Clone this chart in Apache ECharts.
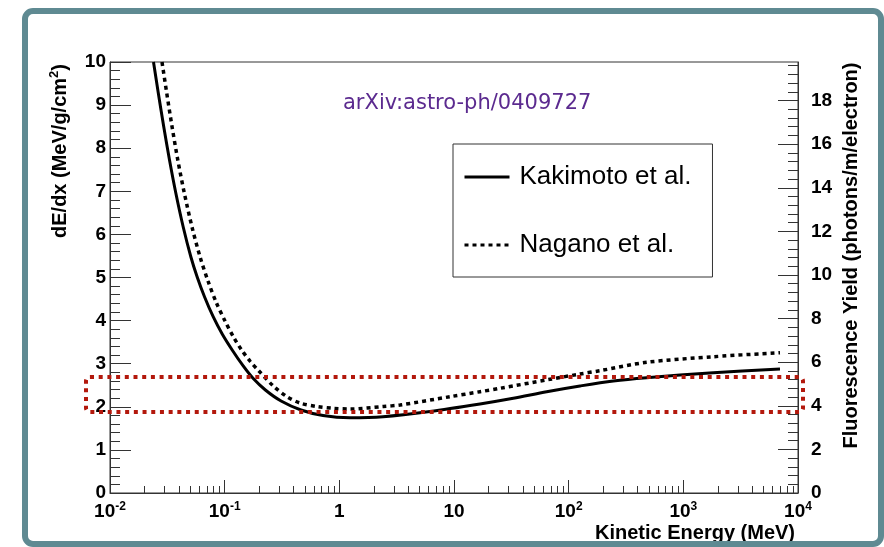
<!DOCTYPE html>
<html>
<head>
<meta charset="utf-8">
<script src="https://cdn.jsdelivr.net/npm/echarts@6/dist/echarts.min.js"></script>
<style>
  html, body { margin: 0; padding: 0; background: #fff; }
  #main { width: 884px; height: 547px; }
</style>
</head>
<body>
<div id="main"></div>
<script>
// dE/dx curves (energy in MeV, dE/dx in MeV/g/cm2)
var kakimotoEnergy = [0.02395, 0.02637, 0.02945, 0.03303, 0.03749, 0.0435, 0.05076, 0.05759, 0.06683, 0.07959,
  0.09517, 0.1163, 0.1451, 0.1759, 0.2265, 0.3105, 0.463, 0.7204, 1.239, 2.404,
  6.17, 16.85, 32.9, 64.3, 125.6, 245, 478, 1824, 6966];
var kakimotoDedx = [10.0, 9.281, 8.492, 7.726, 6.961, 6.172, 5.476, 5.012, 4.548, 4.084,
  3.689, 3.318, 2.947, 2.668, 2.390, 2.135, 1.926, 1.798, 1.747, 1.770,
  1.891, 2.065, 2.197, 2.350, 2.483, 2.599, 2.675, 2.791, 2.877];

var naganoEnergy = [0.02841, 0.03123, 0.0348, 0.03902, 0.04446, 0.05189, 0.06105, 0.07153, 0.08487, 0.1007,
  0.1194, 0.1416, 0.1674, 0.1972, 0.2655, 0.3475, 0.4538, 0.6346, 0.8859, 1.239,
  2.417, 3.381, 9.226, 16.85, 25.18, 68.7, 125.6, 187.5, 478, 1824, 6966];
var naganoDedx = [10.0, 9.281, 8.492, 7.726, 6.961, 6.172, 5.476, 4.919, 4.408, 3.991,
  3.619, 3.306, 3.051, 2.842, 2.483, 2.239, 2.088, 2.007, 1.965, 1.949,
  2.007, 2.042, 2.234, 2.350, 2.429, 2.638, 2.761, 2.838, 3.032, 3.162, 3.255];

var seriesNames = ['Kakimoto et al.', 'Nagano et al.'];

// axis ticks / labels
var xTickLabels = ['10^-2', '10^-1', '1', '10', '10^2', '10^3', '10^4'];
var xDecades = [0.01, 0.1, 1, 10, 100, 1000];
var rightMajorTicks = [0, 2, 4, 6, 8, 10, 12, 14, 16, 18];
var rightMax = 19.77;

var xMinorTicks = [];
xDecades.forEach(function (d) {
  for (var k = 2; k <= 9; k++) xMinorTicks.push(+(k * d).toPrecision(3));
});
var rightMinorTicks = [];
for (var i = 1; i * 0.4 < rightMax; i++) {
  if (i % 5 !== 0) rightMinorTicks.push(+(i * 0.4).toFixed(1));
}

function zip(xs, ys) {
  return xs.map(function (x, i) { return [x, ys[i]]; });
}

var font = 'Liberation Sans, Arial, Helvetica, sans-serif';
var axisColor = '#333';

var myChart = echarts.init(document.getElementById('main'));

myChart.setOption({
  animation: false,
  backgroundColor: '#fff',
  title: {
    text: 'arXiv:astro-ph/0409727',
    left: 343,
    top: 93,
    padding: 0,
    textStyle: { color: '#5b2a8f', fontSize: 21, fontWeight: 'normal', fontFamily: 'DejaVu Sans' }
  },
  legend: {
    orient: 'vertical',
    left: 453,
    top: 144,
    padding: [18, 21, 17, 10],
    itemGap: 38,
    itemWidth: 45,
    itemHeight: 14,
    borderColor: '#333',
    borderWidth: 1,
    backgroundColor: '#fff',
    itemStyle: { opacity: 0 },
    lineStyle: { width: 3 },
    textStyle: { fontFamily: font, fontSize: 26, color: '#000', lineHeight: 30, padding: [0, 0, 0, 5] },
    data: seriesNames
  },
  grid: {
    left: 110,
    right: 86,
    top: 62,
    bottom: 54,
    show: true,
    borderColor: axisColor,
    borderWidth: 1,
    backgroundColor: 'transparent',
    outerBoundsMode: 'none'
  },
  xAxis: [
    {
      type: 'log',
      logBase: 10,
      min: 0.01,
      max: 10000,
      splitNumber: 6,
      position: 'bottom',
      axisLine: { show: true, lineStyle: { color: axisColor, width: 1 } },
      axisTick: { show: true, inside: true, length: 13, lineStyle: { color: axisColor } },
      minorTick: { show: false },
      splitLine: { show: false },
      axisLabel: {
        margin: 8,
        formatter: function (value) {
          var idx = Math.round(Math.log10(value)) + 2;
          var lab = xTickLabels[idx] || '';
          var parts = lab.split('^');
          return parts.length > 1 ? '{b|' + parts[0] + '}{s|' + parts[1] + '}' : '{b|' + lab + '}';
        },
        rich: {
          b: { fontFamily: font, fontWeight: 'bold', fontSize: 19, lineHeight: 22, color: '#000' },
          s: { fontFamily: font, fontWeight: 'bold', fontSize: 12, lineHeight: 12, verticalAlign: 'top', color: '#000' }
        }
      },
      name: 'Kinetic Energy (MeV)',
      nameLocation: 'end',
      nameGap: 0,
      nameMoveOverlap: false,
      nameTextStyle: {
        fontFamily: font, fontWeight: 'bold', fontSize: 20, color: '#000',
        align: 'right', verticalAlign: 'top', padding: [30, 3, 0, 0]
      }
    },
    {
      type: 'log',
      logBase: 10,
      min: 0.01,
      max: 10000,
      position: 'bottom',
      axisLine: { show: false },
      axisTick: { show: true, inside: true, length: 7, customValues: xMinorTicks, lineStyle: { color: axisColor } },
      axisLabel: { show: false },
      splitLine: { show: false }
    }
  ],
  yAxis: [
    {
      type: 'value',
      min: 0,
      max: 10,
      interval: 1,
      position: 'left',
      axisLine: { show: true, lineStyle: { color: axisColor, width: 1 } },
      axisTick: { show: true, inside: true, length: 21, lineStyle: { color: axisColor } },
      minorTick: { show: true, splitNumber: 5, length: 10, lineStyle: { color: axisColor } },
      splitLine: { show: false },
      minorSplitLine: { show: false },
      axisLabel: { margin: 4, fontFamily: font, fontWeight: 'bold', fontSize: 19, color: '#000' },
      name: '{n|dE/dx (MeV/g/cm}{s|2}{n|)}',
      nameLocation: 'middle',
      nameGap: 38,
      nameRotate: 90,
      nameMoveOverlap: false,
      nameTextStyle: {
        align: 'center',
        padding: [0, 0, 0, 253],
        rich: {
          n: { fontFamily: font, fontWeight: 'bold', fontSize: 20, lineHeight: 24, color: '#000' },
          s: { fontFamily: font, fontWeight: 'bold', fontSize: 13, lineHeight: 13, verticalAlign: 'top', color: '#000' }
        }
      }
    },
    {
      type: 'value',
      min: 0,
      max: rightMax,
      position: 'right',
      axisLine: { show: true, lineStyle: { color: axisColor, width: 1 } },
      axisTick: { show: true, inside: true, length: 20, customValues: rightMajorTicks, lineStyle: { color: axisColor } },
      splitLine: { show: false },
      axisLabel: {
        customValues: rightMajorTicks,
        margin: 13, fontFamily: font, fontWeight: 'bold', fontSize: 19, color: '#000'
      },
      name: 'Fluorescence Yield (photons/m/electron)',
      nameLocation: 'middle',
      nameGap: 43,
      nameRotate: 90,
      nameMoveOverlap: false,
      nameTextStyle: {
        fontFamily: font, fontWeight: 'bold', fontSize: 20, color: '#000',
        align: 'center', padding: [0, 0, 0, 44]
      }
    },
    {
      type: 'value',
      min: 0,
      max: rightMax,
      position: 'right',
      axisLine: { show: false },
      axisTick: { show: true, inside: true, length: 10, customValues: rightMinorTicks, lineStyle: { color: axisColor } },
      axisLabel: { show: false },
      splitLine: { show: false }
    }
  ],
  series: [
    {
      name: seriesNames[0],
      type: 'line',
      xAxisIndex: 0,
      yAxisIndex: 0,
      data: zip(kakimotoEnergy, kakimotoDedx),
      symbol: 'none',
      smooth: 0.3,
      lineStyle: { color: '#000', width: 3 },
      itemStyle: { color: '#000' },
      emphasis: { disabled: true }
    },
    {
      name: seriesNames[1],
      type: 'line',
      xAxisIndex: 0,
      yAxisIndex: 0,
      data: zip(naganoEnergy, naganoDedx),
      symbol: 'none',
      smooth: 0.3,
      lineStyle: { color: '#000', width: 3.5, type: [4, 4] },
      itemStyle: { color: '#000' },
      emphasis: { disabled: true }
    }
  ],
  graphic: [
    {
      type: 'rect',
      silent: true,
      z: 100,
      shape: { x: 25, y: 11, width: 856, height: 533, r: 8 },
      style: { fill: 'none', stroke: '#5f8a92', lineWidth: 6 }
    },
    {
      type: 'rect',
      silent: true,
      z: 100,
      shape: { x: 86, y: 377, width: 717, height: 35, r: 4 },
      style: { fill: 'none', stroke: '#b3180c', lineWidth: 4, lineDash: [4, 4.7] }
    }
  ]
});
</script>
</body>
</html>
